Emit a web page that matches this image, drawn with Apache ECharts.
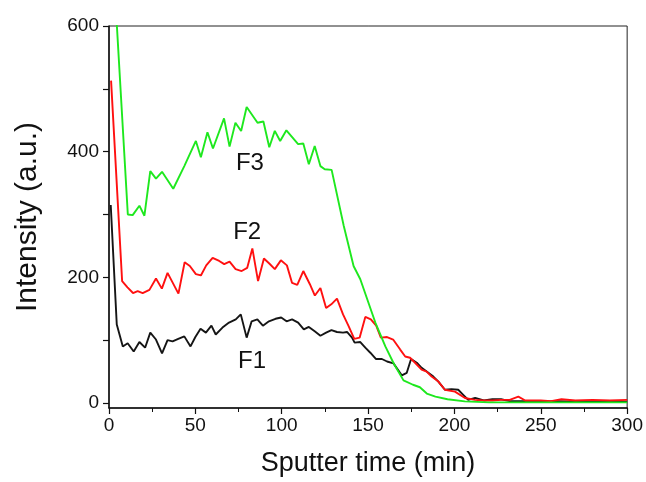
<html>
<head>
  <meta charset="utf-8">
  <style>
    html, body { margin: 0; padding: 0; background: #fff; }
    #container { width: 646px; height: 482px; }
  </style>
</head>
<body>
<div id="container"></div>
<script type="text/javascript" src="https://cdn.jsdelivr.net/npm/echarts@6/dist/echarts.min.js"></script>
<script type="text/javascript">
  // F1 (black)
  const f1Time = [1, 4.5, 8, 10.8, 14.3, 17.6, 20.9, 23.9, 27.2, 30.7, 33.9, 36.8, 40.1, 43.6, 47.2, 50, 53, 56.1, 59.3, 61.8,
    65.7, 69.5, 73.4, 76.3, 79.7, 82.6, 85.9, 89.1, 92.6, 96.4, 99.7, 102.8, 106, 109.5, 112.8, 115.7, 119.1, 122.4, 125.7, 128.8,
    132, 135.5, 137.8, 140.7, 142.2, 145.5, 148.4, 151.3, 154.5, 158, 161, 164.7, 169.5, 172.4, 174.9, 178.2, 181, 184.9, 187.8, 190.7,
    194.5, 198.3, 202.2, 205.1, 208, 212, 217, 222, 227, 232, 240, 250, 260, 270, 280, 290, 300];
  const f1Intensity = [315, 125, 90, 95, 82, 97, 88, 112, 101, 79, 100, 98, 102, 106, 90, 105, 118, 112, 123, 109,
    120, 128, 133, 141, 104, 130, 133, 123, 130, 134, 136, 130, 133, 128, 117, 121, 114, 107, 112, 116,
    113, 112, 113, 104, 96, 97, 88, 80, 70, 70, 66, 63, 44, 48, 70, 64, 56, 48, 42, 34,
    21, 22, 21, 13, 5, 8, 4, 6, 6, 3, 3, 2, 3, 2, 3, 2, 2];

  // F2 (red)
  const f2Time = [1.2, 7.6, 10.7, 13.9, 16.6, 19.5, 23.4, 27.2, 30.6, 33.9, 40.2, 43.8, 46.8, 50.3, 53.2, 56.3, 60, 63.8, 66.7, 69.8,
    73.3, 76.8, 80, 83, 86.3, 89.7, 92.8, 96, 99.5, 103, 106, 109, 112.5, 116.3, 119.2, 122.4, 125.7, 128.7, 132, 135.5,
    138.8, 142, 145.1, 148.4, 151.6, 154.7, 157.4, 161, 164.5, 168.6, 171.5, 174.3, 177.2, 181, 183.9, 186.8, 190.7, 194.5, 200.3, 206.1,
    211.8, 217, 222, 227, 232, 237, 241, 250, 256, 262, 270, 280, 290, 300];
  const f2Intensity = [513, 194, 184, 175, 178, 175, 180, 198, 182, 207, 174, 224, 218, 205, 203, 219, 231, 226, 221, 225,
    213, 210, 215, 246, 194, 230, 222, 213, 227, 219, 191, 188, 210, 189, 171, 183, 151, 157, 166, 141,
    122, 102, 104, 137, 133, 123, 104, 105, 101, 85, 74, 72, 64, 53, 50, 42, 34, 21, 18, 8,
    5, 4, 4, 5, 5, 10, 4, 4, 3, 6, 4, 5, 4, 5];

  // F3 (green)
  const f3Time = [3.2, 10.9, 13.7, 17.6, 20.5, 23.9, 27.2, 30.7, 37.2, 43.6, 50.3, 53.2, 57, 60.2, 66.6, 69.8, 73.2, 76.5, 79.7, 86,
    89.4, 92.8, 96, 99.1, 102.7, 109.5, 112.5, 115.7, 119.1, 122.4, 124.9, 128.9, 135.9, 141.6, 145.5, 154.2, 160, 165, 170.5, 176,
    180, 184, 189, 196, 206, 220, 240, 260, 280, 300];
  const f3Intensity = [665, 300, 299, 314, 298, 369, 357, 368, 341, 377, 417, 391, 431, 405, 453, 408, 446, 433, 471, 446,
    448, 407, 433, 417, 434, 412, 413, 380, 409, 377, 372, 371, 282, 218, 197, 128, 90, 62, 36, 29,
    25, 15, 10, 6, 2.5, 1, 1, 1, 1, 1];

  // curve labels
  const labelNames = ['F1', 'F2', 'F3'];
  const labelX = [82.8, 80, 81.6];
  const labelY = [67, 271, 381];

  const xTicks = { min: 0, max: 300, interval: 50 };
  const yLabelValues = [0, 200, 400, 600];
  const yTickValues = [0, 100, 200, 300, 400, 500, 600];

  function pairs(xs, ys) {
    return xs.map((x, i) => [x, ys[i]]);
  }

  var myChart = echarts.init(document.getElementById('container'), null, { renderer: 'canvas' });

  const font = 'Liberation Sans, Arial, sans-serif';

  var option = {
    animation: false,
    backgroundColor: '#fff',
    grid: {
      left: 109, right: 17, top: 26, bottom: 74,
      show: true, borderColor: '#222', borderWidth: 1, backgroundColor: 'transparent'
    },
    xAxis: {
      type: 'value',
      min: xTicks.min, max: xTicks.max, interval: xTicks.interval,
      name: 'Sputter time (min)',
      nameLocation: 'middle',
      nameGap: 42,
      nameTextStyle: { fontFamily: font, fontSize: 27, color: '#111' },
      axisLine: { show: true, onZero: false, lineStyle: { color: '#111', width: 1.5 } },
      axisTick: { show: true, length: 6, lineStyle: { color: '#111', width: 1.2 } },
      minorTick: { show: true, splitNumber: 2, length: 4, lineStyle: { color: '#111', width: 1 } },
      axisLabel: { fontFamily: font, fontSize: 19, color: '#111', margin: 8 },
      splitLine: { show: false }
    },
    yAxis: {
      type: 'value',
      min: -8, max: 600,
      name: 'Intensity (a.u.)',
      nameLocation: 'middle',
      nameGap: 66,
      nameTextStyle: { fontFamily: font, fontSize: 30, color: '#111' },
      axisLine: { show: true, onZero: false, lineStyle: { color: '#111', width: 1.5 } },
      axisTick: { show: true, length: 6, customValues: yTickValues, lineStyle: { color: '#111', width: 1.2 } },
      axisLabel: { fontFamily: font, fontSize: 19, color: '#111', margin: 10, customValues: yLabelValues },
      splitLine: { show: false }
    },
    series: [
      {
        name: 'F1', type: 'line', data: pairs(f1Time, f1Intensity),
        showSymbol: false, lineStyle: { color: '#151515', width: 1.9 }, z: 2
      },
      {
        name: 'F2', type: 'line', data: pairs(f2Time, f2Intensity),
        showSymbol: false, lineStyle: { color: '#ff1010', width: 1.9 }, z: 3
      },
      {
        name: 'F3', type: 'line', data: pairs(f3Time, f3Intensity),
        showSymbol: false, lineStyle: { color: '#1ee81e', width: 1.9 }, z: 4
      },
      {
        type: 'scatter',
        symbolSize: 0,
        silent: true,
        itemStyle: { opacity: 1, color: '#111' },
        data: labelNames.map((n, i) => [labelX[i], labelY[i], n]),
        label: {
          show: true, position: 'inside',
          formatter: (p) => p.value[2],
          fontFamily: font, fontSize: 24, color: '#111', opacity: 1
        },
        z: 5
      }
    ]
  };

  myChart.setOption(option);
</script>
</body>
</html>
